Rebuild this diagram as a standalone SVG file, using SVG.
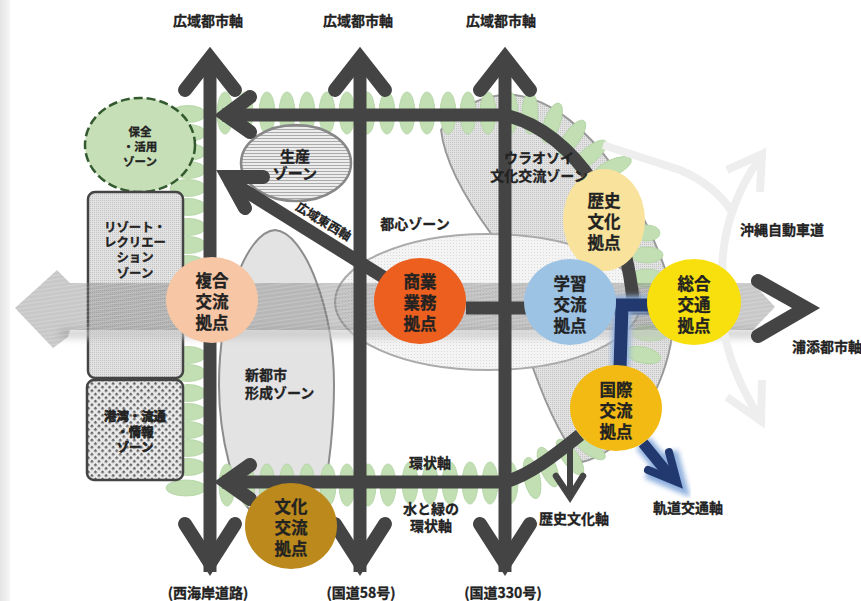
<svg xmlns="http://www.w3.org/2000/svg" width="861" height="601" viewBox="0 0 861 601">
<style>
text{font-family:"Noto Sans CJK JP","Noto Sans",sans-serif;font-weight:700;fill:#222;stroke:#222;stroke-width:.3;text-anchor:middle;dominant-baseline:central}
.t14{font-size:14px}.t16{font-size:16.5px}.t12{font-size:12.4px}.t15{font-size:15px}.t11{font-size:11.5px}
.st{text-anchor:start}
.g{fill:#c2deb3;stroke:#b0d3a1;stroke-width:.8}
.ax{fill:none;stroke:#444;stroke-width:14;stroke-linecap:round;stroke-linejoin:miter;stroke-miterlimit:8}
.axb{fill:none;stroke:#444;stroke-width:13;stroke-linejoin:miter}
.pale{fill:none;stroke:#eee;stroke-width:8;stroke-linejoin:miter}
.navy{fill:none;stroke:#22396f;stroke-width:13;stroke-linejoin:miter}
.glow{fill:none;stroke:#8fb0de;stroke-width:18;filter:url(#blur2);stroke-linejoin:miter}
</style>
<defs>
<linearGradient id="lg"><stop offset="0" stop-color="#e4e4e4"/><stop offset="1" stop-color="#f6f6f6"/></linearGradient>
<pattern id="dots" width="2" height="2" patternUnits="userSpaceOnUse"><rect width="2" height="2" fill="#e2e2e2"/><rect width="1" height="1" fill="#c2c2c2"/></pattern>
<pattern id="dotsL" width="3" height="3" patternUnits="userSpaceOnUse"><rect width="3" height="3" fill="#f4f4f4"/><rect width="1" height="1" fill="#dadada"/></pattern>
<pattern id="check" width="5" height="5" patternUnits="userSpaceOnUse" patternTransform="rotate(45)"><rect width="5" height="5" fill="#eaeaea"/><rect width="2.5" height="2.5" fill="#666"/></pattern>
<pattern id="lines" width="3" height="3" patternUnits="userSpaceOnUse"><rect width="3" height="3" fill="#ececec"/><rect width="3" height="1" fill="#aaa"/></pattern>
<pattern id="hatch" width="14" height="4" patternUnits="userSpaceOnUse" patternTransform="rotate(-8)"><rect width="14" height="4" fill="#6e6e6e" fill-opacity=".38"/><rect width="14" height="1" fill="#fff" fill-opacity=".2"/></pattern>
<filter id="blur2" x="-40%" y="-40%" width="180%" height="180%"><feGaussianBlur stdDeviation="2.5"/></filter>
<filter id="blur4" x="-10%" y="-200%" width="120%" height="500%"><feGaussianBlur stdDeviation="4"/></filter>
</defs>
<rect width="861" height="601" fill="#fff"/>
<rect width="10" height="601" fill="url(#lg)"/>

<g id="zone-urasoe"><path d="M441 130C455 108 485 93 515 95C555 100 590 135 612 165C640 205 660 250 672 290C678 330 668 380 635 425C620 445 600 458 582 462C565 445 548 410 533 368L492 235C470 205 445 165 441 130Z" fill="url(#dots)" stroke="#999" stroke-width="2"/></g>
<g id="zone-toshin"><ellipse cx="488" cy="302" rx="153" ry="68" fill="url(#dotsL)" stroke="#aaa" stroke-width="2"/><text class="t14" x="415" y="223">都心ゾーン</text></g>
<g id="zone-shintoshi"><path d="M275 230C245 232 219 310 219 385C219 440 235 495 250 510L320 510C330 470 334 420 334 385C334 310 305 232 275 230Z" fill="#e3e3e4" stroke="#8c8c8c" stroke-width="2"/><text class="t14 st" y="374"><tspan x="245">新都市</tspan><tspan x="245" dy="18">形成ゾーン</tspan></text></g>

<g id="greenbelt">
<ellipse class="g" cx="225" cy="113" rx="8" ry="21"/><ellipse class="g" cx="245" cy="113" rx="8" ry="21"/><ellipse class="g" cx="267" cy="113" rx="8" ry="21"/><ellipse class="g" cx="287" cy="113" rx="8" ry="21"/><ellipse class="g" cx="307" cy="113" rx="8" ry="21"/><ellipse class="g" cx="327" cy="113" rx="8" ry="21"/><ellipse class="g" cx="347" cy="113" rx="8" ry="21"/><ellipse class="g" cx="367" cy="113" rx="8" ry="21"/><ellipse class="g" cx="387" cy="113" rx="8" ry="21"/><ellipse class="g" cx="407" cy="113" rx="8" ry="21"/><ellipse class="g" cx="427" cy="113" rx="8" ry="21"/><ellipse class="g" cx="448" cy="113" rx="8" ry="21"/><ellipse class="g" cx="468" cy="113" rx="8" ry="21"/><ellipse class="g" cx="488" cy="113" rx="8" ry="21"/><ellipse class="g" cx="510" cy="113" rx="8" ry="21"/><ellipse class="g" cx="530" cy="113" rx="8" ry="21"/>
<ellipse class="g" cx="552" cy="123" rx="8" ry="21" transform="rotate(20 552 123)"/><ellipse class="g" cx="572" cy="138" rx="8" ry="21" transform="rotate(35 572 138)"/><ellipse class="g" cx="590" cy="155" rx="8" ry="21" transform="rotate(50 590 155)"/><ellipse class="g" cx="612" cy="168" rx="8" ry="21" transform="rotate(65 612 168)"/>
<ellipse class="g" cx="647" cy="233" rx="13" ry="8"/><ellipse class="g" cx="647" cy="255" rx="16" ry="8"/><ellipse class="g" cx="647" cy="278" rx="17" ry="9"/><ellipse class="g" cx="650" cy="333" rx="18" ry="8"/><ellipse class="g" cx="643" cy="355" rx="18" ry="8" transform="rotate(12 643 355)"/>
<ellipse class="g" cx="227" cy="485" rx="8" ry="21"/><ellipse class="g" cx="247" cy="485" rx="8" ry="21"/><ellipse class="g" cx="267" cy="485" rx="8" ry="21"/><ellipse class="g" cx="287" cy="485" rx="8" ry="21"/><ellipse class="g" cx="307" cy="485" rx="8" ry="21"/><ellipse class="g" cx="328" cy="485" rx="8" ry="21"/><ellipse class="g" cx="347" cy="485" rx="8" ry="21"/><ellipse class="g" cx="368" cy="485" rx="8" ry="21"/><ellipse class="g" cx="388" cy="485" rx="8" ry="21"/><ellipse class="g" cx="410" cy="483" rx="8" ry="21"/><ellipse class="g" cx="430" cy="483" rx="8" ry="21"/><ellipse class="g" cx="450" cy="483" rx="8" ry="21"/><ellipse class="g" cx="470" cy="483" rx="8" ry="21"/><ellipse class="g" cx="490" cy="483" rx="8" ry="21"/><ellipse class="g" cx="510" cy="483" rx="8" ry="21"/>
<ellipse class="g" cx="532" cy="478" rx="8" ry="21" transform="rotate(-12 532 478)"/><ellipse class="g" cx="548" cy="467" rx="8" ry="21" transform="rotate(-22 548 467)"/><ellipse class="g" cx="570" cy="457" rx="8" ry="21" transform="rotate(-35 570 457)"/><ellipse class="g" cx="590" cy="448" rx="7" ry="18" transform="rotate(-55 590 448)"/>
<ellipse class="g" cx="188" cy="114" rx="18" ry="8.5"/><ellipse class="g" cx="188" cy="133" rx="18" ry="8.5"/><ellipse class="g" cx="188" cy="152" rx="18" ry="8.5"/><ellipse class="g" cx="188" cy="170" rx="18" ry="8.5"/><ellipse class="g" cx="188" cy="188" rx="18" ry="8.5"/><ellipse class="g" cx="188" cy="207" rx="18" ry="8.5"/><ellipse class="g" cx="188" cy="227" rx="18" ry="8.5"/><ellipse class="g" cx="188" cy="245" rx="18" ry="8.5"/><ellipse class="g" cx="188" cy="264" rx="18" ry="8.5"/><ellipse class="g" cx="188" cy="355" rx="18" ry="8.5"/><ellipse class="g" cx="188" cy="373" rx="18" ry="8.5"/><ellipse class="g" cx="188" cy="393" rx="18" ry="8.5"/><ellipse class="g" cx="188" cy="412" rx="18" ry="8.5"/><ellipse class="g" cx="188" cy="430" rx="18" ry="8.5"/><ellipse class="g" cx="188" cy="448" rx="18" ry="8.5"/><ellipse class="g" cx="188" cy="467" rx="18" ry="8.5"/><ellipse class="g" cx="186" cy="488" rx="20" ry="8"/>
</g>

<g id="zone-seisan"><ellipse cx="296" cy="163" rx="55" ry="38" fill="url(#lines)" stroke="#888" stroke-width="2.5"/><text class="t15" y="155"><tspan x="295">生産</tspan><tspan x="295" dy="17">ゾーン</tspan></text></g>
<g id="zone-hozen"><ellipse cx="140" cy="145" rx="55" ry="47" fill="#c6dfb6" stroke="#33592f" stroke-width="2.5" stroke-dasharray="9 4"/><text class="t11" y="131"><tspan x="140">保全</tspan><tspan x="140" dy="15">・活用</tspan><tspan x="140" dy="15">ゾーン</tspan></text></g>
<g id="zone-resort"><rect x="88" y="192" width="95" height="186" rx="7" fill="url(#dots)" stroke="#444" stroke-width="2.5"/></g>
<g id="zone-kowan"><rect x="87" y="380" width="96" height="100" rx="7" fill="url(#check)" stroke="#444" stroke-width="2.5"/><text class="t12" y="416" style="stroke-width:.7"><tspan x="135">港湾・流通</tspan><tspan x="135" dy="15.5">・情報</tspan><tspan x="135" dy="15">ゾーン</tspan></text></g>

<g id="band">
<rect x="60" y="330" width="700" height="7" fill="#c4c4c4" filter="url(#blur4)"/>
<path d="M15 308L57 270L70 283H753L775 307L753 330H70L68 337L53 348Z" fill="url(#hatch)"/>
</g>
<g id="label-resort"><text class="t12" y="227"><tspan x="135">リゾート・</tspan><tspan x="135" dy="15">レクリエー</tspan><tspan x="135" dy="15">ション</tspan><tspan x="135" dy="16">ゾーン</tspan></text></g>

<g id="connectors">
<path class="pale" d="M603 145L680 170Q715 185 732 212"/>
<path class="pale" d="M723 290C718 240 735 190 762 156M727 170L762 154L760 192"/>
<path class="pale" d="M723 325C728 360 745 395 761 420M727 397L761 421L762 380"/>
<path class="axb" d="M210 62V572"/><path class="axb" d="M360 62V572"/><path class="axb" d="M505 62V572"/>
<path class="ax" d="M185 90L210 58L235 90"/><path class="ax" d="M335 90L360 58L385 90"/><path class="ax" d="M480 90L505 58L530 90"/>
<path class="ax" d="M185 524L210 563L235 524"/><path class="ax" d="M335 524L360 563L385 524"/><path class="ax" d="M480 524L505 563L530 524"/>
<path class="axb" d="M222 115H505C545 125 575 155 595 185C615 215 628 250 633 300"/>
<path class="ax" d="M250 97L226 115L250 132"/>
<path class="axb" d="M222 482H505C530 475 555 455 580 435"/>
<path class="ax" d="M250 465L226 482L250 499"/>
<path class="axb" d="M420 300L228 180"/>
<path class="ax" d="M263 177L228 177L245 208"/>
<path class="axb" d="M466 308H650"/>
<path class="ax" d="M758 281L806 308L758 336"/>
<path d="M570 440V494" fill="none" stroke="#444" stroke-width="6"/>
<path d="M556 476L570 497L583 476" fill="none" stroke="#444" stroke-width="6.5" stroke-linecap="round"/>
<path class="glow" d="M650 305H622L620 368"/>
<path class="navy" d="M650 305H622L620 368"/>
<path class="glow" d="M643 443L672 478M648 470L677 482L669 452"/>
<path class="navy" style="stroke-width:11" d="M643 443L670 476"/>
<path d="M648 470L677 482L669 452" fill="none" stroke="#22396f" stroke-width="8" stroke-linecap="round"/>
</g>

<g id="hub-fukugo"><ellipse cx="212" cy="300" rx="46" ry="43" fill="#f6c6a5"/><text class="t16" y="280"><tspan x="212">複合</tspan><tspan x="212" dy="21">交流</tspan><tspan x="212" dy="21">拠点</tspan></text></g>
<g id="hub-shogyo"><ellipse cx="420" cy="301" rx="46" ry="43" fill="#ec5f1e"/><text class="t16" y="281"><tspan x="420">商業</tspan><tspan x="420" dy="21">業務</tspan><tspan x="420" dy="21">拠点</tspan></text></g>
<g id="hub-rekishi"><ellipse cx="604" cy="220" rx="41" ry="51" fill="#f8e29c"/><text class="t16" y="200"><tspan x="604">歴史</tspan><tspan x="604" dy="21">文化</tspan><tspan x="604" dy="21">拠点</tspan></text></g>
<g id="hub-gakushu"><ellipse cx="570" cy="302" rx="46" ry="43" fill="#9cc3e4"/><text class="t16" y="283"><tspan x="570">学習</tspan><tspan x="570" dy="21">交流</tspan><tspan x="570" dy="21">拠点</tspan></text></g>
<g id="hub-sogo"><ellipse cx="694" cy="302" rx="47" ry="43" fill="#f8e00e"/><text class="t16" y="283"><tspan x="694">総合</tspan><tspan x="694" dy="21">交通</tspan><tspan x="694" dy="21">拠点</tspan></text></g>
<g id="hub-kokusai"><ellipse cx="616" cy="408" rx="46" ry="43" fill="#f4ba14"/><text class="t16" y="389"><tspan x="616">国際</tspan><tspan x="616" dy="21">交流</tspan><tspan x="616" dy="21">拠点</tspan></text></g>
<g id="hub-bunka"><ellipse cx="291" cy="526" rx="46" ry="43" fill="#bc8a1c"/><text class="t16" y="506"><tspan x="291">文化</tspan><tspan x="291" dy="21">交流</tspan><tspan x="291" dy="21">拠点</tspan></text></g>

<g id="labels">
<text class="t14" y="157"><tspan x="539">ウラオソイ</tspan><tspan x="539" dy="18">文化交流ゾーン</tspan></text>
<text class="t14" x="208" y="20">広域都市軸</text><text class="t14" x="358" y="20">広域都市軸</text><text class="t14" x="501" y="20">広域都市軸</text>
<text class="t14" x="782" y="229">沖縄自動車道</text><text class="t14" x="827" y="346">浦添都市軸</text>
<text class="t14" x="208" y="592">(西海岸道路)</text><text class="t14" x="361" y="592">(国道58号)</text><text class="t14" x="503" y="592">(国道330号)</text>
<text class="t14" x="430" y="462">環状軸</text><text class="t14" y="508"><tspan x="431">水と緑の</tspan><tspan x="431" dy="17">環状軸</tspan></text>
<text class="t14" x="574" y="518">歴史文化軸</text><text class="t14" x="688" y="507">軌道交通軸</text>
<text class="t12" x="324" y="221" transform="rotate(31 324 221)">広域東西軸</text>
</g>
</svg>
